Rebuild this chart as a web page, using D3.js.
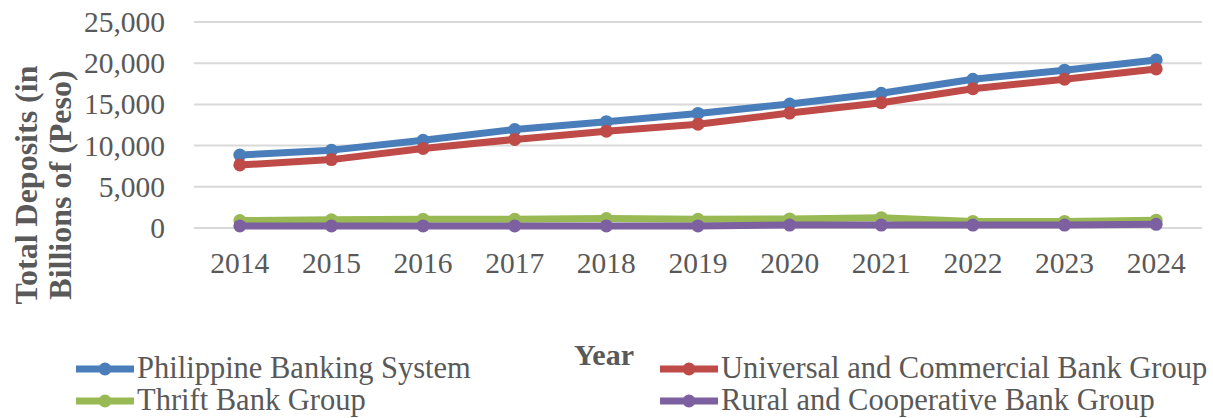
<!DOCTYPE html>
<html><head><meta charset="utf-8">
<script src="https://cdn.jsdelivr.net/npm/d3@7"></script>
<style>body{margin:0;background:#fff}svg{display:block}text{font-family:"Liberation Serif","Times New Roman",serif}</style>
</head><body><svg id="c" width="1213" height="418"></svg>
<script>
const years = ["2014","2015","2016","2017","2018","2019","2020","2021","2022","2023","2024"];
const seriesNames = ["Philippine Banking System","Universal and Commercial Bank Group","Thrift Bank Group","Rural and Cooperative Bank Group"];
const pbs = [8850, 9450, 10650, 11950, 12900, 13900, 15050, 16350, 18050, 19150, 20400];
const ucb = [7650, 8300, 9650, 10750, 11750, 12600, 13950, 15200, 16900, 18050, 19300];
const thrift = [900, 1000, 1050, 1050, 1150, 1050, 1100, 1250, 800, 800, 950];
const rural = [250, 250, 250, 250, 250, 250, 350, 350, 350, 350, 450];
const yTicks = [0, 5000, 10000, 15000, 20000, 25000];
const colors = ["#4a7ebb","#be4b48","#98b954","#7d60a0"];
const data = [pbs, ucb, thrift, rural];

(function () {
const svg = d3.select("#c");
const mL = 194, mR = 1202, mT = 22, mB = 228;
const x = d3.scaleBand().domain(years).range([mL, mR]);
const y = d3.scaleLinear().domain([0, 25000]).range([mB, mT]);
const grey = "#595959";

svg.append("g").selectAll("line").data(yTicks).join("line")
  .attr("x1", mL).attr("x2", mR)
  .attr("y1", d => y(d)).attr("y2", d => y(d))
  .attr("stroke", "#d9d9d9").attr("stroke-width", 2);

const ya = svg.append("g").attr("transform", `translate(${mL - 26},0)`)
  .call(d3.axisLeft(y).tickValues(yTicks).tickSize(0).tickFormat(d3.format(",")));
ya.select(".domain").remove();
ya.selectAll("text").attr("font-size", 29.5).attr("fill", grey).attr("font-family", "Liberation Serif");

const xa = svg.append("g").attr("transform", `translate(0,${mB + 21})`)
  .call(d3.axisBottom(x).tickSize(0));
xa.select(".domain").remove();
xa.selectAll("text").attr("font-size", 29.5).attr("fill", grey).attr("font-family", "Liberation Serif").attr("dy", "0.71em");

const line = d3.line().x((d, i) => x(years[i]) + x.bandwidth() / 2).y(d => y(d));
[2, 3, 0, 1].forEach(k => {
  const g = svg.append("g");
  g.append("path").datum(data[k]).attr("d", line).attr("fill", "none")
    .attr("stroke", colors[k]).attr("stroke-width", 7).attr("stroke-linejoin", "round");
  g.selectAll("circle").data(data[k]).join("circle")
    .attr("cx", (d, i) => x(years[i]) + x.bandwidth() / 2).attr("cy", d => y(d))
    .attr("r", 6.5).attr("fill", colors[k]);
});

const yt = svg.append("text").attr("transform", "translate(43,185) rotate(-90)")
  .attr("text-anchor", "middle").attr("font-weight", "bold").attr("font-size", 32).attr("fill", grey);
yt.append("tspan").attr("x", 0).attr("dy", "-0.2em").text("Total Deposits (in");
yt.append("tspan").attr("x", 0).attr("dy", "1.08em").text("Billions of (Peso)");

svg.append("text").attr("x", 604).attr("y", 365).attr("text-anchor", "middle")
  .attr("font-weight", "bold").attr("font-size", 30).attr("fill", grey).text("Year");

const legPos = [[76, 369], [660, 369], [76, 401], [660, 401]];
seriesNames.forEach((n, k) => {
  const [lx, ly] = legPos[k];
  const g = svg.append("g").attr("transform", `translate(${lx},${ly})`);
  g.append("line").attr("x1", 0).attr("x2", 58).attr("y1", 0).attr("y2", 0)
    .attr("stroke", colors[k]).attr("stroke-width", 7);
  g.append("circle").attr("cx", 29).attr("cy", 0).attr("r", 6.5).attr("fill", colors[k]);
  g.append("text").attr("x", 61).attr("y", 0).attr("dy", "0.3em")
    .attr("font-size", 30.5).attr("fill", grey).text(n);
});
})();
</script></body></html>
